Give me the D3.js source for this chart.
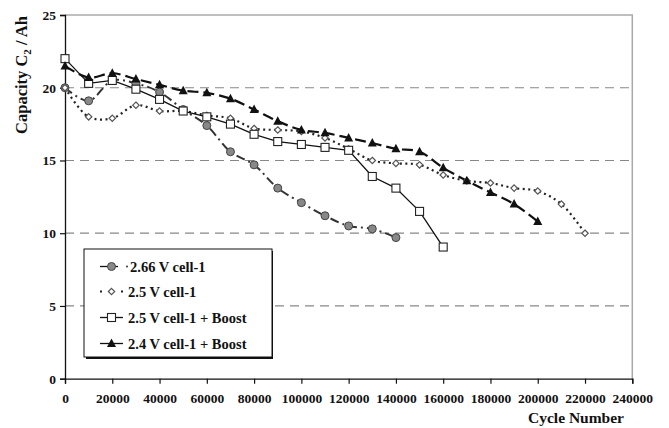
<!DOCTYPE html>
<html><head><meta charset="utf-8">
<script src="https://cdn.jsdelivr.net/npm/d3@7"></script>
<style>body{margin:0;background:#fff}svg{display:block}</style>
</head><body><svg id="c" width="669" height="428"></svg>
<script>
const cycles = [0,10000,20000,30000,40000,50000,60000,70000,80000,90000,100000,110000,120000,130000,140000,150000,160000,170000,180000,190000,200000,210000,220000];
const s266 = [20.0,19.1,20.5,20.3,19.7,18.5,17.4,15.6,14.7,13.1,12.1,11.2,10.5,10.3,9.7];
const s25 = [20.0,18.0,17.9,18.8,18.4,18.4,18.1,17.9,17.2,17.1,17.0,16.55,15.8,15.0,14.8,14.7,14.0,13.6,13.45,13.1,12.9,12.0,10.0];
const s25b = [22.0,20.3,20.5,19.9,19.2,18.4,18.0,17.5,16.8,16.3,16.1,15.9,15.7,13.9,13.1,11.5,9.05];
const s24b = [21.5,20.7,21.0,20.6,20.2,19.8,19.65,19.25,18.5,17.7,17.1,16.9,16.55,16.2,15.8,15.6,14.5,13.6,12.8,12.0,10.8];
const seriesNames = ["2.66 V cell-1","2.5 V cell-1","2.5 V cell-1 + Boost","2.4 V cell-1 + Boost"];
const xTicks = [0,20000,40000,60000,80000,100000,120000,140000,160000,180000,200000,220000,240000];
const yTicks = [0,5,10,15,20,25];

const FONT = "'Liberation Serif', 'DejaVu Serif', serif";
const svg = d3.select("#c");
const L=65, R=632.3, T=15, B=378.7;
const x = d3.scaleLinear().domain([0,240000]).range([L,R]);
const y = d3.scaleLinear().domain([0,25]).range([B,T]);

svg.append("path").attr("d",`M${L},${T}H${R}V${B}`).attr("fill","none").attr("stroke","#aaa").attr("stroke-width",1.5);
svg.append("g").selectAll("line").data([5,10,15,20]).join("line")
 .attr("x1",L).attr("x2",R).attr("y1",d=>y(d)).attr("y2",d=>y(d))
 .attr("stroke","#888").attr("stroke-width",1.2).attr("stroke-dasharray","9,6");

const ya = svg.append("g").attr("transform",`translate(${L},0)`)
 .call(d3.axisLeft(y).tickValues(yTicks).tickSize(5).tickPadding(4));
const xa = svg.append("g").attr("transform",`translate(0,${B})`)
 .call(d3.axisBottom(x).tickValues(xTicks).tickSize(5).tickPadding(7).tickFormat(d3.format("d")));
[ya,xa].forEach(g=>{
 g.attr("font-family",null).attr("font-size",null);
 g.select(".domain").attr("stroke","#111").attr("stroke-width",1.3);
 g.selectAll(".tick line").attr("stroke","#111").attr("stroke-width",1.2);
 g.selectAll(".tick text").style("font-size","13.5px").style("font-family",FONT).style("font-weight","bold").attr("fill","#111");});
xa.selectAll(".tick text").attr("dy","0.9em");

svg.append("text").attr("transform","translate(27,75) rotate(-90)").attr("text-anchor","middle")
 .style("font-family",FONT).style("font-weight","bold").style("font-size","16.5px").attr("fill","#111")
 .html('Capacity C<tspan style="font-size:11px" dy="4">2</tspan><tspan dy="-4"> / Ah</tspan>');
svg.append("text").attr("x",576).attr("y",423).attr("text-anchor","middle")
 .style("font-family",FONT).style("font-weight","bold").style("font-size","15.5px").attr("fill","#111").text("Cycle Number");

const defs = [
 {vals:s266, dash:"9,4,2,4", w:2, stroke:"#333", curve:d3.curveCatmullRom, marker:"circle"},
 {vals:s25, dash:"2,3.5", w:2.2, stroke:"#222", curve:d3.curveCatmullRom, marker:"diamond"},
 {vals:s25b, dash:null, w:1.3, stroke:"#111", curve:d3.curveLinear, marker:"square"},
 {vals:s24b, dash:"11,5", w:2.2, stroke:"#111", curve:d3.curveCatmullRom, marker:"triangle"}
];
function drawMarker(g, type, cx, cy){
 if(type==="circle") g.append("circle").attr("cx",cx).attr("cy",cy).attr("r",4).attr("fill","#888").attr("stroke","#444").attr("stroke-width",1);
 else if(type==="diamond") g.append("path").attr("d",`M${cx},${cy-3.2}L${cx+3.2},${cy}L${cx},${cy+3.2}L${cx-3.2},${cy}Z`).attr("fill","#fff").attr("stroke","#555").attr("stroke-width",1.2);
 else if(type==="square") g.append("rect").attr("x",cx-4).attr("y",cy-4).attr("width",8).attr("height",8).attr("fill","#fff").attr("stroke","#222").attr("stroke-width",1.1);
 else g.append("path").attr("d",`M${cx},${cy-5}L${cx+4.5},${cy+3.5}L${cx-4.5},${cy+3.5}Z`).attr("fill","#111");
}
defs.forEach(s=>{
 const pts = s.vals.map((v,i)=>[cycles[i],v]);
 const line = d3.line().x(d=>x(d[0])).y(d=>y(d[1])).curve(s.curve);
 svg.append("path").attr("d",line(pts)).attr("fill","none").attr("stroke",s.stroke).attr("stroke-width",s.w)
  .attr("stroke-dasharray",s.dash);
});
defs.forEach(s=>{
 const g = svg.append("g");
 s.vals.forEach((v,i)=>drawMarker(g,s.marker,x(cycles[i]),y(v)));
});

const lg = svg.append("g");
lg.append("rect").attr("x",86).attr("y",251).attr("width",187).attr("height",108).attr("fill","#111");
lg.append("rect").attr("x",84).attr("y",249).attr("width",188).attr("height",108).attr("fill","#fff").attr("stroke","#111").attr("stroke-width",1);
const rows=[266.5,291.5,317.5,343.5];
defs.forEach((s,i)=>{
 const yy=rows[i];
 if(i===1){
  lg.append("line").attr("x1",100).attr("x2",124).attr("y1",yy).attr("y2",yy).attr("stroke","#222").attr("stroke-width",2.2).attr("stroke-dasharray","2,8.5");
 } else {
  lg.append("line").attr("x1",100).attr("x2",i===0?118:123).attr("y1",yy).attr("y2",yy).attr("stroke","#111").attr("stroke-width",1.3);
  if(i===0) lg.append("circle").attr("cx",127).attr("cy",yy).attr("r",1).attr("fill","#333");
 }
 drawMarker(lg,s.marker,111.5,yy);
 lg.append("text").attr("x",i===0?130:128).attr("y",yy+5)
  .style("font-family",FONT).style("font-weight","bold").style("font-size","14.5px").attr("fill","#111").text(seriesNames[i]);
});
</script></body></html>
